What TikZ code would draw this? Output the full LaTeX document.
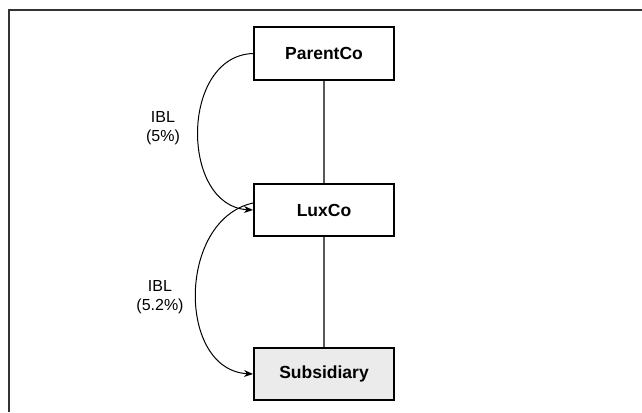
\documentclass[tikz,border=0pt]{standalone}
\usepackage{fontspec}
\setmainfont{Liberation Sans}
\usetikzlibrary{arrows.meta}
\definecolor{framec}{HTML}{333333}
\definecolor{linkc}{HTML}{595959}
\definecolor{subfill}{HTML}{EBEBEB}
\tikzset{
  entity/.style={draw=black, line width=2pt, minimum width=140pt, minimum height=52pt,
    inner sep=0pt, font=\fontsize{17.5}{21}\selectfont\bfseries},
  link/.style={draw=linkc, line width=1.4pt},
  loan/.style={draw=black, line width=1pt, -{Stealth[length=9pt,width=7pt]}},
  lbl/.style={align=center, font=\fontsize{16}{19}\selectfont, inner sep=0pt}
}
\begin{document}
\begin{tikzpicture}[x=1pt,y=-1pt]
\useasboundingbox (0,0) rectangle (642,412);
\draw[framec, line width=1.5pt] (9,412) -- (9,10) -- (642,10);
\node[entity] (parent) at (324,53.5) {ParentCo};
\node[entity] (lux) at (324,210) {LuxCo};
\node[entity, fill=subfill] (sub) at (324,374) {Subsidiary};
\draw[link] (parent.south) -- (lux.north);
\draw[link] (lux.south) -- (sub.north);
\coordinate (p1) at ([yshift=0pt]parent.west);
\coordinate (l1) at ([yshift=7pt]lux.west);
\draw[loan] (p1) .. controls (180,56) and (180,206) .. (lux.west);
\draw[loan] (l1) .. controls (177,220) and (177,370) .. (sub.west);
\node[lbl] (lab1) at (163,128) {IBL\\(5\%)};
\node[lbl] (lab2) at (160,297) {IBL\\(5.2\%)};
\end{tikzpicture}
\end{document}
